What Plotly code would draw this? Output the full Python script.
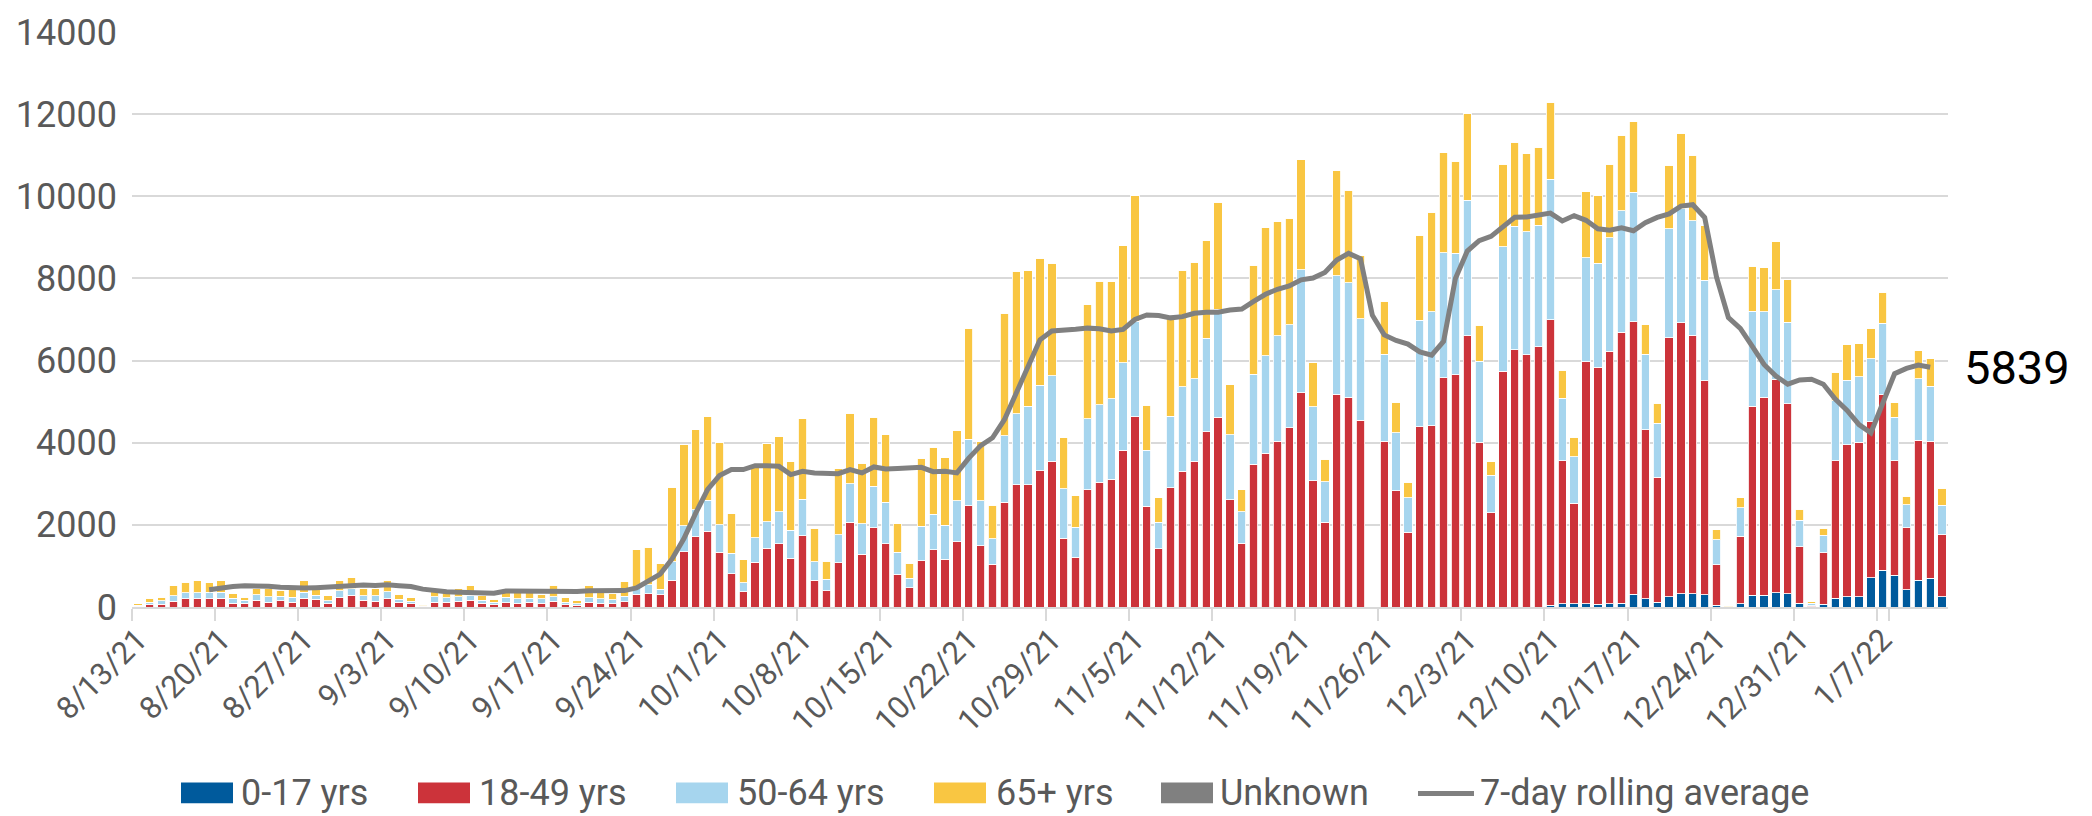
import pandas as pd
import plotly.graph_objects as go

# ---------------- data ----------------
days = [f"{d.month}/{d.day}/{d.year % 100}" for d in pd.date_range("2021-08-13", "2022-01-12")]
tick_labels = ["8/13/21", "8/20/21", "8/27/21", "9/3/21", "9/10/21", "9/17/21", "9/24/21",
               "10/1/21", "10/8/21", "10/15/21", "10/22/21", "10/29/21", "11/5/21", "11/12/21",
               "11/19/21", "11/26/21", "12/3/21", "12/10/21", "12/17/21", "12/24/21",
               "12/31/21", "1/7/22"]

age_0_17 = [
    0, 0, 0, 0, 0, 0, 0, 0, 0, 0,
    0, 0, 0, 0, 0, 0, 0, 0, 0, 0,
    0, 0, 0, 0, 0, 0, 0, 0, 0, 0,
    0, 0, 0, 0, 0, 0, 0, 0, 0, 0,
    0, 0, 0, 0, 0, 0, 0, 0, 0, 0,
    0, 0, 0, 0, 0, 0, 0, 0, 0, 0,
    0, 0, 0, 0, 0, 0, 0, 0, 0, 0,
    0, 0, 0, 0, 0, 0, 0, 0, 0, 0,
    0, 0, 0, 0, 0, 0, 0, 0, 0, 0,
    0, 0, 0, 0, 0, 0, 0, 0, 0, 0,
    0, 0, 0, 0, 0, 0, 0, 0, 0, 0,
    0, 0, 0, 0, 0, 0, 0, 0, 0, 40,
    85, 85, 85, 70, 77, 95, 315, 195, 110, 255,
    325, 325, 300, 45, 0, 85, 290, 290, 345, 320,
    95, 10, 70, 210, 255, 255, 710, 890, 770, 415,
    650, 705, 250]

age_18_49 = [
    20, 50, 65, 145, 195, 195, 195, 210, 90, 90,
    160, 120, 150, 120, 210, 185, 90, 235, 290, 165,
    145, 200, 120, 80, 15, 120, 120, 135, 170, 90,
    55, 105, 90, 110, 90, 145, 50, 40, 110, 90,
    80, 130, 305, 320, 295, 655, 1350, 1710, 1850, 1330,
    815, 370, 1090, 1430, 1535, 1190, 1735, 650, 400, 1080,
    2065, 1290, 1935, 1535, 800, 465, 1130, 1400, 1160, 1585,
    2470, 1495, 1040, 2550, 2975, 2975, 3320, 3545, 1675, 1210,
    2850, 3040, 3105, 3815, 4630, 2450, 1415, 2905, 3310, 3550,
    4270, 4625, 2615, 1550, 3480, 3745, 4040, 4370, 5215, 3070,
    2065, 5185, 5110, 4550, 0, 4030, 2830, 1825, 4385, 4415,
    5585, 5650, 6610, 4010, 2295, 5745, 6265, 6145, 6340, 6950,
    3470, 2440, 5885, 5765, 6150, 6600, 6630, 4120, 3050, 6305,
    6600, 6290, 5210, 985, 5, 1635, 4600, 4815, 5200, 4625,
    1370, 25, 1250, 3350, 3690, 3760, 3800, 4280, 2790, 1520,
    3410, 3330, 1510]

age_50_64 = [
    20, 65, 90, 130, 150, 150, 160, 145, 120, 70,
    135, 135, 110, 120, 150, 105, 65, 160, 150, 110,
    130, 175, 70, 55, 10, 130, 110, 120, 120, 70,
    55, 135, 110, 105, 105, 105, 65, 40, 120, 110,
    95, 130, 185, 225, 135, 450, 630, 655, 750, 670,
    495, 225, 600, 650, 785, 680, 890, 450, 280, 680,
    930, 735, 1010, 1015, 535, 240, 840, 855, 830, 1000,
    1610, 1090, 625, 1615, 1735, 1910, 2080, 2080, 1210, 730,
    1735, 1880, 1970, 2130, 2330, 1370, 650, 1745, 2050, 2010,
    2270, 2625, 1575, 770, 2190, 2375, 2570, 2505, 3000, 1800,
    985, 2880, 2785, 2470, 20, 2130, 1410, 830, 2600, 2770,
    3040, 2960, 3295, 1975, 910, 3030, 3010, 2990, 2955, 3420,
    1525, 1130, 2535, 2535, 2760, 2955, 3155, 1840, 1310, 2655,
    2775, 2795, 2450, 610, 5, 695, 2310, 2080, 2175, 1985,
    650, 60, 430, 1465, 1575, 1590, 1530, 1735, 1065, 560,
    1495, 1335, 720]

age_65_plus = [
    40, 95, 80, 240, 255, 290, 240, 280, 110, 75,
    145, 185, 150, 180, 275, 130, 120, 245, 275, 185,
    185, 280, 115, 90, 30, 210, 190, 185, 225, 115,
    75, 175, 220, 225, 120, 285, 110, 80, 285, 200,
    145, 350, 905, 910, 625, 1815, 1975, 1950, 2030, 2010,
    960, 550, 1785, 1895, 1825, 1670, 1960, 815, 440, 1610,
    1720, 1470, 1670, 1640, 695, 360, 1650, 1630, 1650, 1705,
    2705, 1440, 810, 2985, 3470, 3305, 3095, 2750, 1240, 770,
    2775, 3015, 2850, 2850, 3050, 1090, 590, 2370, 2840, 2830,
    2375, 2610, 1225, 530, 2650, 3110, 2770, 2590, 2680, 1080,
    545, 2560, 2255, 1535, 0, 1280, 745, 385, 2065, 2430,
    2440, 2240, 2105, 880, 335, 2000, 2040, 1900, 1895, 1875,
    685, 480, 1610, 1655, 1790, 1840, 1720, 720, 490, 1540,
    1840, 1585, 1320, 240, 15, 250, 1095, 1070, 1175, 1040,
    265, 35, 170, 690, 865, 810, 750, 760, 345, 200,
    690, 680, 415]

unknown = [
    0, 0, 0, 0, 0, 0, 0, 0, 0, 0,
    0, 0, 0, 0, 0, 0, 0, 0, 0, 0,
    0, 0, 0, 0, 0, 0, 0, 0, 0, 0,
    0, 0, 0, 0, 0, 0, 0, 0, 0, 0,
    0, 0, 0, 0, 0, 0, 0, 0, 0, 0,
    0, 0, 0, 0, 0, 0, 0, 0, 0, 0,
    0, 0, 0, 0, 0, 0, 0, 0, 0, 0,
    0, 0, 0, 0, 0, 0, 0, 0, 0, 0,
    0, 0, 0, 0, 0, 0, 0, 0, 0, 0,
    0, 0, 0, 0, 0, 0, 0, 0, 0, 0,
    0, 0, 0, 0, 10, 0, 0, 0, 0, 0,
    0, 0, 0, 0, 0, 0, 0, 0, 0, 0,
    0, 0, 0, 0, 0, 0, 0, 0, 0, 0,
    0, 0, 0, 0, 5, 0, 0, 0, 0, 0,
    0, 0, 0, 0, 0, 0, 0, 0, 0, 0,
    0, 0, 0]

# 7-day rolling average, from 8/19/21 to 1/11/22
rolling_avg = [
    420, 475, 500, 515,
    520, 505, 480, 465, 460, 470, 490, 515, 540, 535,
    525, 540, 520, 500, 435, 395, 370, 360, 355, 340,
    335, 390, 385, 375, 370, 370, 375, 375, 395, 395,
    410, 400, 464, 625, 800, 1170, 1665, 2290, 2865, 3200,
    3345, 3345, 3440, 3440, 3425, 3225, 3305, 3265, 3250, 3245,
    3345, 3265, 3410, 3360, 3370, 3370, 3400, 3295, 3305, 3265,
    3625, 3930, 4120, 4560, 5225, 5905, 6505, 6720, 6725, 6760,
    6790, 6775, 6720, 6760, 7000, 7110, 7095, 7040, 7070, 7150,
    7175, 7175, 7230, 7255, 7440, 7615, 7735, 7815, 7965, 8010,
    8145, 8450, 8610, 8480, 7105, 6625, 6490, 6400, 6210, 6130,
    6465, 8000, 8665, 8920, 9025, 9265, 9490, 9495, 9530, 9590,
    9400, 9530, 9415, 9210, 9175, 9230, 9160, 9355, 9485, 9570,
    9760, 9795, 9485, 8030, 7045, 6785, 6350, 5905, 5625, 5425,
    5530, 5545, 5425, 5065, 4785, 4440, 4240, 4945, 5680, 5810,
    5890, 5839]
rolling_days = days[6:6 + len(rolling_avg)]

series_names = ["0-17 yrs", "18-49 yrs", "50-64 yrs", "65+ yrs", "Unknown"]
series_values = [age_0_17, age_18_49, age_50_64, age_65_plus, unknown]
series_colors = ["#005A9C", "#CC333A", "#A6D5EE", "#F9C642", "#808080"]
line_name = "7-day rolling average"
line_color = "#808080"

# ---------------- figure ----------------
W, H = 2092, 816
ML, MR, MT, MB = 132, 144, 24, 209
PW, PH = W - ML - MR, H - MT - MB
FONT = "Roboto"
TXT = "#595959"

fig = go.Figure()
for name, vals, col in zip(series_names, series_values, series_colors):
    fig.add_trace(go.Bar(x=days, y=vals, name=name,
                         marker=dict(color=col, line=dict(color="rgba(255,255,255,0.85)", width=1)),
                         showlegend=False))
fig.add_trace(go.Scatter(x=rolling_days, y=rolling_avg, name=line_name, mode="lines",
                         line=dict(color=line_color, width=5), showlegend=False))


def px_x(px):
    return (px - ML) / PW


def px_y(py):
    return (H - MB - py) / PH


shapes = []
annotations = []
legend_items = [(181, 239), (418, 477), (676, 735), (934, 994), (1161, 1218)]
for (x0, tx), name, col in zip(legend_items, series_names, series_colors):
    shapes.append(dict(type="rect", xref="paper", yref="paper", x0=px_x(x0), x1=px_x(x0 + 52),
                       y0=px_y(806), y1=px_y(785), fillcolor=col, line=dict(width=0)))
    annotations.append(dict(xref="paper", yref="paper", x=px_x(tx), y=px_y(796), text=name, showarrow=False,
                            xanchor="left", yanchor="middle", font=dict(family=FONT, size=36, color=TXT)))
shapes.append(dict(type="line", xref="paper", yref="paper", x0=px_x(1418), x1=px_x(1474),
                   y0=px_y(796), y1=px_y(796), line=dict(color=line_color, width=5)))
annotations.append(dict(xref="paper", yref="paper", x=px_x(1478), y=px_y(796), text=line_name, showarrow=False,
                        xanchor="left", yanchor="middle", font=dict(family=FONT, size=36, color=TXT)))
annotations.append(dict(x=rolling_days[-1], y=rolling_avg[-1], xref="x", yref="y", text=str(rolling_avg[-1]),
                        showarrow=False, xanchor="left", yanchor="middle", xshift=32,
                        font=dict(family=FONT, size=47, color="#000000")))

fig.update_layout(
    width=W, height=H,
    margin=dict(l=ML, r=MR, t=MT, b=MB, pad=0),
    paper_bgcolor="white", plot_bgcolor="white",
    barmode="stack", bargap=0.3,
    font=dict(family=FONT, color=TXT),
    shapes=shapes, annotations=annotations,
    showlegend=False,
)
fig.update_xaxes(type="category", categoryorder="array", categoryarray=days,
                 range=[-0.5, len(days) - 0.5],
                 tickmode="array", tickvals=tick_labels, ticktext=tick_labels,
                 tickson="boundaries", tickangle=-45, ticks="outside", ticklen=12, tickwidth=2,
                 tickcolor="#D9D9D9", showline=True, linecolor="#D9D9D9", linewidth=2,
                 showgrid=False, tickfont=dict(family=FONT, size=31, color=TXT))
fig.update_yaxes(range=[0, 14000], dtick=2000, tick0=0, tickformat="d", showgrid=True,
                 gridcolor="#D9D9D9", gridwidth=2,
                 zeroline=False, showline=False, ticks="", ticklabelstandoff=14,
                 tickfont=dict(family=FONT, size=36, color=TXT))

fig.write_html("out.html", config={"displayModeBar": False},
               post_script="document.body.style.margin='0';")
